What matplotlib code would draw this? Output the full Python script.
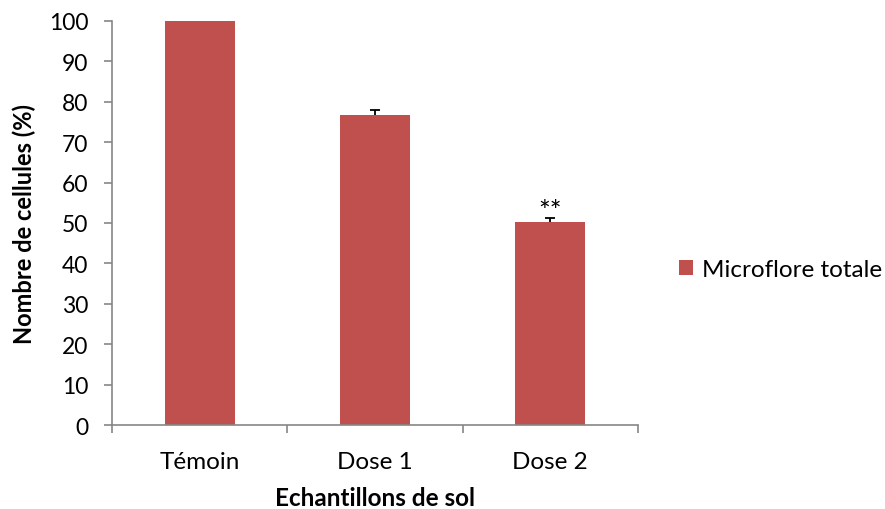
import matplotlib.pyplot as plt
import numpy as np

plt.rcParams['font.family'] = ['Lato', 'DejaVu Sans']

categories = ["Témoin", "Dose 1", "Dose 2"]
values = [100.0, 76.7, 50.2]
errors = [0.3, 1.2, 1.0]
signif = ["", "", "**"]
series_name = "Microflore totale"

BAR = "#C0504D"
AXC = "#868686"

fig = plt.figure(figsize=(8.85, 5.1), dpi=100)
ax = fig.add_axes([0.1266, 0.1647, 0.5943, 0.7922])

x = np.arange(len(categories))
ax.bar(x, values, width=0.4, color=BAR, label=series_name, zorder=2)

# upper-only error bars (stem + top cap)
tops = [v + e for v, e in zip(values, errors)]
ax.vlines(x, values, tops, color="black", lw=1.3, zorder=3)
ax.hlines(tops, x - 0.028, x + 0.028, color="black", lw=1.3, zorder=3)
for xi, t, s in zip(x, tops, signif):
    if s:
        ax.text(xi, t + 1.5, s, ha="center", va="center", fontsize=20)

ax.set_xlim(-0.5, len(categories) - 0.5)
ax.set_ylim(0, 100)
ax.set_yticks(np.arange(0, 101, 10))
ax.set_xticks(x)
ax.set_xticklabels(categories, fontsize=17.5)
ax.tick_params(axis="x", length=0, pad=19)
ax.tick_params(axis="y", labelsize=16.5, length=6, pad=11, color=AXC, width=1.2)
ax.set_xticks(np.arange(-0.5, len(categories), 1.0), minor=True)
ax.tick_params(axis="x", which="minor", length=6, color=AXC, width=1.2)

for side in ("top", "right"):
    ax.spines[side].set_visible(False)
for side in ("left", "bottom"):
    ax.spines[side].set_color(AXC)
    ax.spines[side].set_linewidth(1.2)

ax.set_ylabel("Nombre de cellules (%)", fontsize=17, fontweight="bold", labelpad=9)
ax.set_xlabel("Echantillons de sol", fontsize=17.5, fontweight="bold", labelpad=10)

fig.legend(loc="center left", bbox_to_anchor=(0.742, 0.47), frameon=False,
           fontsize=17.5, handlelength=0.6, handleheight=0.6, handletextpad=0.35)

fig.savefig("out.png", dpi=100)
